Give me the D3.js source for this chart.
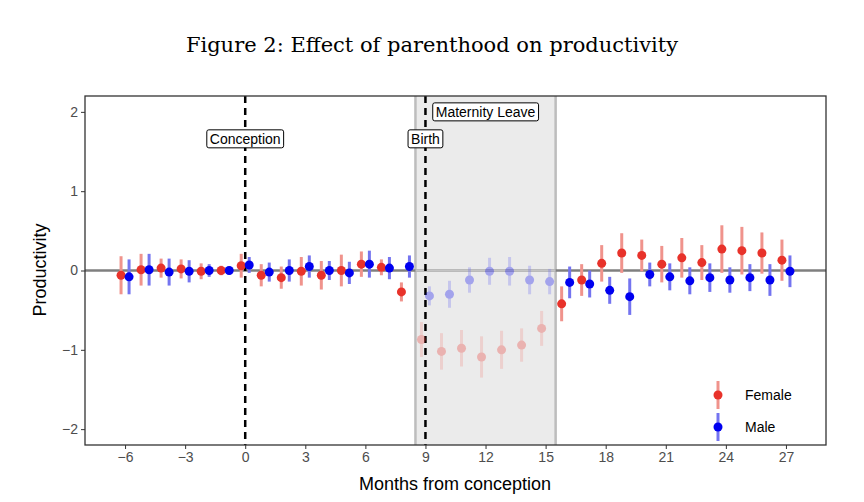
<!DOCTYPE html><html><head><meta charset="utf-8"><script src="https://cdn.jsdelivr.net/npm/d3@7"></script>
<style>body{margin:0;background:#fff}text{font-family:"Liberation Sans",Arial,sans-serif}</style></head><body><svg id="c" width="864" height="502"></svg>
<script>
const months=d3.range(-6,28);
const female=[-0.06,0.01,0.03,0.02,-0.01,0.0,0.06,-0.06,-0.09,-0.01,-0.06,0.0,0.08,0.04,-0.27,-0.87,-1.02,-0.98,-1.09,-1.0,-0.94,-0.73,-0.42,-0.12,0.09,0.22,0.19,0.08,0.16,0.1,0.27,0.25,0.22,0.13];
const femaleErr=[0.24,0.2,0.12,0.12,0.1,0.06,0.15,0.14,0.14,0.18,0.18,0.2,0.16,0.1,0.12,0.22,0.23,0.23,0.26,0.24,0.21,0.22,0.22,0.2,0.23,0.25,0.2,0.23,0.25,0.22,0.3,0.3,0.26,0.26];
const male=[-0.08,0.01,-0.02,-0.01,0.0,0.0,0.07,-0.02,0.0,0.05,0.0,-0.03,0.08,0.03,0.05,-0.32,-0.3,-0.12,-0.01,-0.01,-0.12,-0.14,-0.15,-0.17,-0.25,-0.33,-0.05,-0.08,-0.13,-0.09,-0.12,-0.09,-0.12,-0.01];
const maleErr=[0.22,0.2,0.17,0.14,0.08,0.05,0.1,0.12,0.14,0.14,0.12,0.14,0.17,0.14,0.14,0.12,0.17,0.16,0.17,0.18,0.18,0.16,0.2,0.17,0.17,0.23,0.15,0.17,0.17,0.18,0.16,0.17,0.2,0.2];
const xTicks=[-6,-3,0,3,6,9,12,15,18,21,24,27];
const yTicks=[-2,-1,0,1,2];
const svg=d3.select("#c");
const L=85,R=826,T=96,B=445;
const x=d3.scaleLinear().domain([-8,29]).range([L,R]);
const y=d3.scaleLinear().domain([-2.2,2.2]).range([B,T]);
svg.append("text").attr("x",432).attr("y",52).attr("text-anchor","middle").style("font-family","'DejaVu Serif','Liberation Serif',serif").style("font-size","21px").text("Figure 2: Effect of parenthood on productivity");
svg.append("rect").attr("x",x(8.5)).attr("y",T).attr("width",x(15.5)-x(8.5)).attr("height",B-T).attr("fill","#ebebeb");
[8.5,15.5].forEach(v=>svg.append("line").attr("x1",x(v)).attr("x2",x(v)).attr("y1",T).attr("y2",B).attr("stroke","#bdbdbd").attr("stroke-width",2.5));
svg.append("line").attr("x1",L).attr("x2",R).attr("y1",y(0)).attr("y2",y(0)).attr("stroke","#7f7f7f").attr("stroke-width",2.5);
svg.append("line").attr("x1",x(8.5)).attr("x2",x(15.5)).attr("y1",y(0)).attr("y2",y(0)).attr("stroke","#c4c4c4").attr("stroke-width",2.5);
[0,9].forEach(v=>svg.append("line").attr("x1",x(v)).attr("x2",x(v)).attr("y1",T).attr("y2",B).attr("stroke","#000").attr("stroke-width",2.5).attr("stroke-dasharray","7,5"));
function series(vals,errs,off,col,ecol){
 months.forEach((m,i)=>{
  const op=(m>=9&&m<=15)?0.3:1;
  const g=svg.append("g").attr("opacity",op);
  g.append("line").attr("x1",x(m+off)).attr("x2",x(m+off)).attr("y1",y(vals[i]-errs[i])).attr("y2",y(vals[i]+errs[i])).attr("stroke",ecol).attr("stroke-width",3);
  g.append("circle").attr("cx",x(m+off)).attr("cy",y(vals[i])).attr("r",4.5).attr("fill",col);
 });
}
series(female,femaleErr,-0.2,"#e8322a","#f0938c");
series(male,maleErr,0.2,"#0000f0","#7474f0");
function label(v,yv,t){
 const g=svg.append("g");
 const tx=g.append("text").attr("x",x(v)).attr("y",y(yv)+5).attr("text-anchor","middle").style("font-size","14px").text(t);
 const bb=tx.node().getBBox();
 g.insert("rect","text").attr("x",bb.x-3).attr("y",bb.y-1).attr("width",bb.width+6).attr("height",bb.height+2).attr("rx",2).attr("fill","#fff").attr("stroke","#000").attr("stroke-width",1);
}
label(0,1.66,"Conception");label(9,1.66,"Birth");label(12,2.0,"Maternity Leave");
svg.append("rect").attr("x",L).attr("y",T).attr("width",R-L).attr("height",B-T).attr("fill","none").attr("stroke","#333").attr("stroke-width",1.3);
const xa=svg.append("g").attr("transform",`translate(0,${B})`).call(d3.axisBottom(x).tickValues(xTicks).tickSize(4).tickFormat(d=>d<0?"\u2212"+(-d):d));
const ya=svg.append("g").attr("transform",`translate(${L},0)`).call(d3.axisLeft(y).tickValues(yTicks).tickSize(4).tickFormat(d=>d<0?"\u2212"+(-d):d));
[xa,ya].forEach(a=>{a.select(".domain").remove();a.selectAll("line").attr("stroke","#333");a.selectAll("text").style("font-size","14px").attr("fill","#4d4d4d");});
svg.append("text").attr("x",455).attr("y",490).attr("text-anchor","middle").style("font-size","18px").text("Months from conception");
svg.append("text").attr("transform","translate(46,270) rotate(-90)").attr("text-anchor","middle").style("font-size","18px").text("Productivity");
[["Female","#e8322a","#f0938c",395],["Male","#0000f0","#7474f0",427]].forEach(([n,c,e,yy])=>{
 svg.append("line").attr("x1",718).attr("x2",718).attr("y1",yy-14).attr("y2",yy+14).attr("stroke",e).attr("stroke-width",3);
 svg.append("circle").attr("cx",718).attr("cy",yy).attr("r",4.5).attr("fill",c);
 svg.append("text").attr("x",745).attr("y",yy+5).style("font-size","14px").text(n);
});
</script></body></html>
